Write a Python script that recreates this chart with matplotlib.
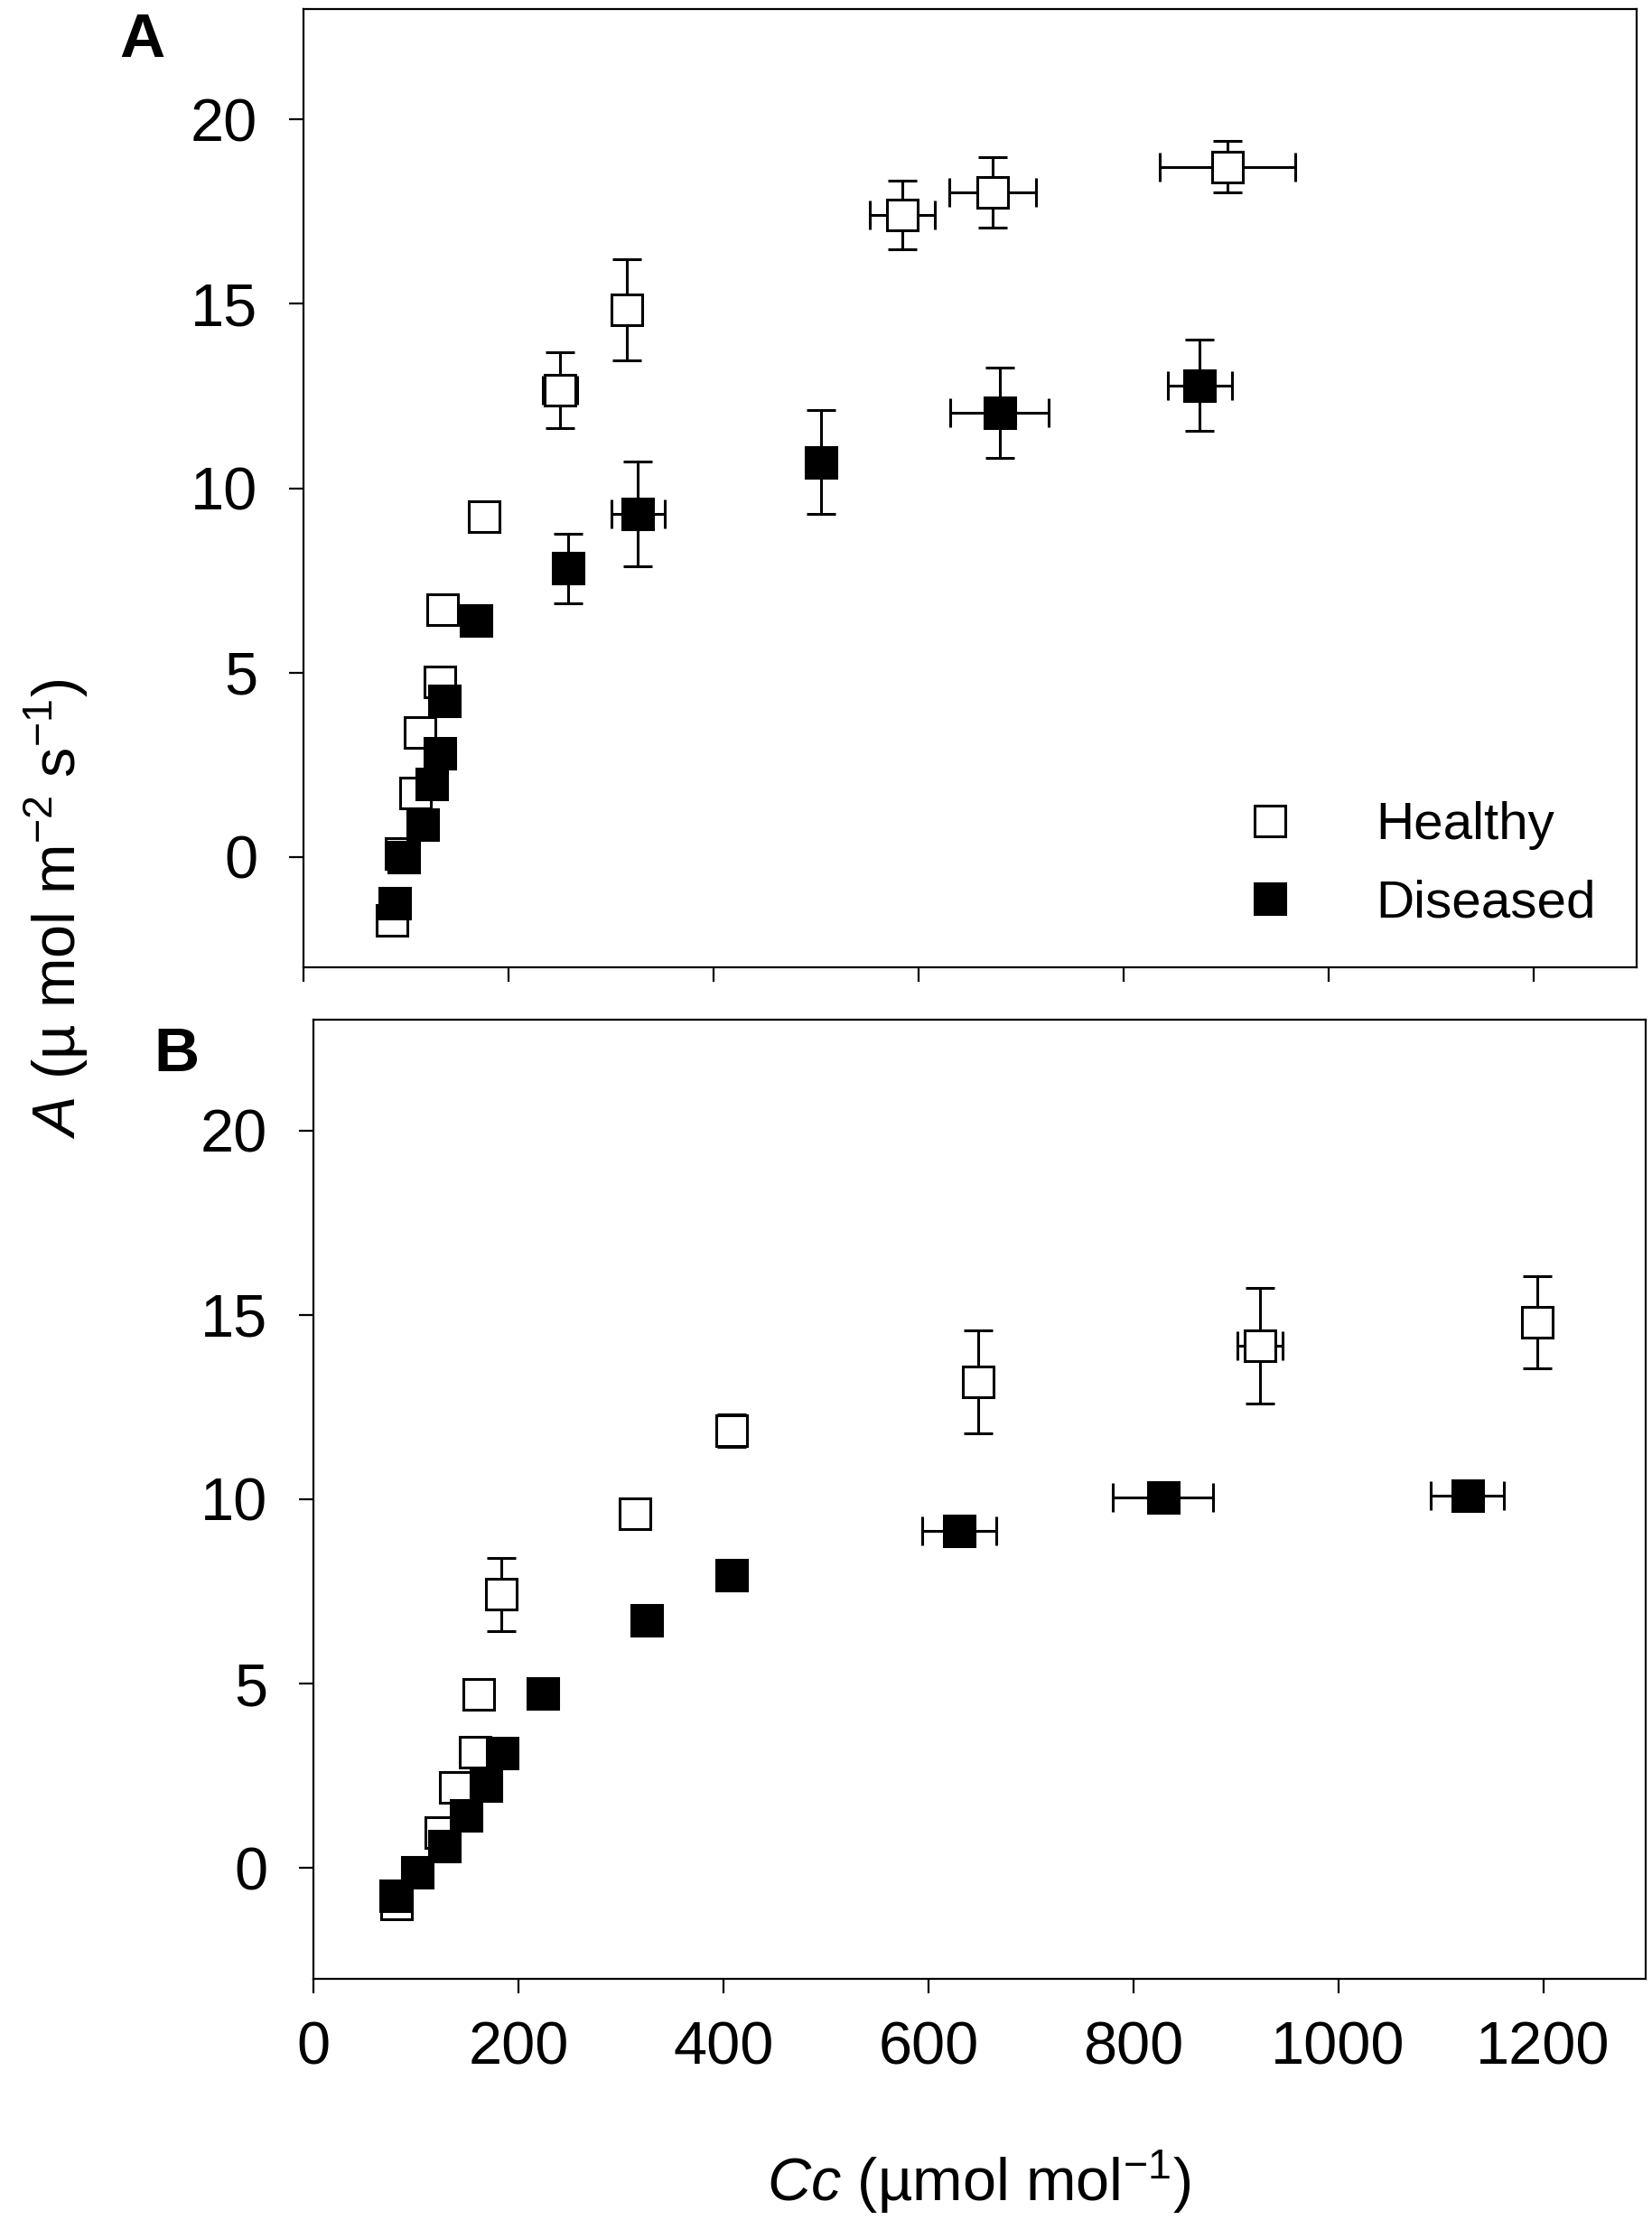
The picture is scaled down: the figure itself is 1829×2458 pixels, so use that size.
import matplotlib
matplotlib.use("Agg")
import matplotlib.pyplot as plt

plt.rcParams['font.family'] = ['Liberation Sans', 'DejaVu Sans']
plt.rcParams['mathtext.fontset'] = 'custom'
plt.rcParams['mathtext.rm'] = 'Liberation Sans'
plt.rcParams['mathtext.it'] = 'Liberation Sans:italic'
plt.rcParams['mathtext.bf'] = 'Liberation Sans:bold'

# ---------------- data ----------------
# Panel A
a_h_cc   = [86, 95, 109, 114, 133, 136, 176, 250, 315, 584, 672, 901]
a_h_A    = [-1.72, 0.08, 1.72, 3.38, 4.74, 6.70, 9.22, 12.66, 14.84, 17.41, 18.02, 18.72]
a_h_xerr = [0, 0, 0, 0, 0, 0, 0, 17, 0, 32, 42, 66]
a_h_yerr = [0, 0, 0, 0, 0, 0, 0, 1.03, 1.38, 0.93, 0.95, 0.70]

a_d_cc   = [89, 98, 116, 125, 133, 137, 168, 258, 326, 505, 679, 874]
a_d_A    = [-1.25, 0.0, 0.88, 1.97, 2.81, 4.24, 6.40, 7.82, 9.31, 10.71, 12.05, 12.79]
a_d_xerr = [0, 0, 0, 0, 0, 0, 0, 0, 26, 0, 48, 31]
a_d_yerr = [0, 0, 0, 0, 0, 0, 0, 0.95, 1.42, 1.40, 1.22, 1.24]

# Panel B
b_h_cc   = [81, 124, 138, 158, 161, 183, 314, 408, 649, 924, 1194]
b_h_A    = [-0.98, 0.96, 2.19, 3.14, 4.71, 7.42, 9.62, 11.86, 13.19, 14.16, 14.80]
b_h_xerr = [0, 0, 0, 0, 0, 0, 0, 0, 0, 22, 0]
b_h_yerr = [0, 0, 0, 0, 0, 1.0, 0, 0.45, 1.40, 1.56, 1.25]

b_d_cc   = [80, 101, 128, 149, 168, 184, 224, 325, 408, 630, 829, 1126]
b_d_A    = [-0.74, -0.10, 0.60, 1.42, 2.23, 3.11, 4.73, 6.72, 7.95, 9.14, 10.05, 10.10]
b_d_xerr = [0, 0, 0, 0, 0, 0, 0, 0, 0, 36, 49, 36]
b_d_yerr = [0, 0, 0, 0, 0, 0, 0, 0, 0, 0, 0, 0]

series_labels = ['Healthy', 'Diseased']
x_ticks = [0, 200, 400, 600, 800, 1000, 1200]
y_ticks = [0, 5, 10, 15, 20]

# ---------------- figure ----------------
W, H = 1829, 2458
fig = plt.figure(figsize=(W / 100, H / 100), dpi=100)

def px_axes(l, t, r, b):
    return fig.add_axes([l / W, 1 - b / H, (r - l) / W, (b - t) / H])

axA = px_axes(336, 10, 1812, 1071)
axB = px_axes(347, 1129, 1822, 2191)

ms, mew, lw, cap = 24, 2.2, 2.2, 11.4
fs = 48

def draw(ax, hx, hy, hxe, hye, dx, dy, dxe, dye):
    h = ax.errorbar(hx, hy, xerr=hxe, yerr=hye, fmt='s', ms=ms, mfc='white',
                    mec='black', mew=mew, ecolor='black', elinewidth=lw,
                    capsize=cap, capthick=lw, zorder=3)
    d = ax.errorbar(dx, dy, xerr=dxe, yerr=dye, fmt='s', ms=ms, mfc='black',
                    mec='black', mew=mew, ecolor='black', elinewidth=lw,
                    capsize=cap, capthick=lw, zorder=4)
    ax.set_xlim(0, 1300)
    ax.set_ylim(-3, 23)
    ax.set_xticks(x_ticks)
    ax.set_yticks(y_ticks)
    for s in ax.spines.values():
        s.set_linewidth(1.6)
    ax.tick_params(direction='out', length=11.5, width=1.6, labelsize=fs)
    ax.tick_params(axis='y', pad=25)
    ax.tick_params(axis='x', pad=22)
    return h, d

hA, dA = draw(axA, a_h_cc, a_h_A, a_h_xerr, a_h_yerr, a_d_cc, a_d_A, a_d_xerr, a_d_yerr)
draw(axB, b_h_cc, b_h_A, b_h_xerr, b_h_yerr, b_d_cc, b_d_A, b_d_xerr, b_d_yerr)
axA.tick_params(axis='x', labelbottom=False)

axA.legend([hA[0], dA[0]], series_labels, loc='lower left',
           bbox_to_anchor=(0.6856, 0.041), borderpad=0, borderaxespad=0,
           frameon=False, fontsize=42, numpoints=1, handlelength=2.0,
           handletextpad=1.0, labelspacing=0.55)

fig.text(62 / W, 1 - 1006 / H, r"$\mathit{A}$ (µ mol m$^{-2}$ s$^{-1}$)",
         rotation=90, ha='center', va='center', fontsize=fs)
fig.text(1084 / W, 1 - 2437 / H, r"$\mathit{Cc}$ (µmol mol$^{-1}$)",
         ha='center', va='baseline', fontsize=fs)

fig.text(157 / W, 1 - 63 / H, 'A', ha='center', va='baseline',
         fontsize=50, fontweight='bold')
fig.text(195 / W, 1 - 1186 / H, 'B', ha='center', va='baseline',
         fontsize=50, fontweight='bold')

fig.savefig('out.png', dpi=100)
